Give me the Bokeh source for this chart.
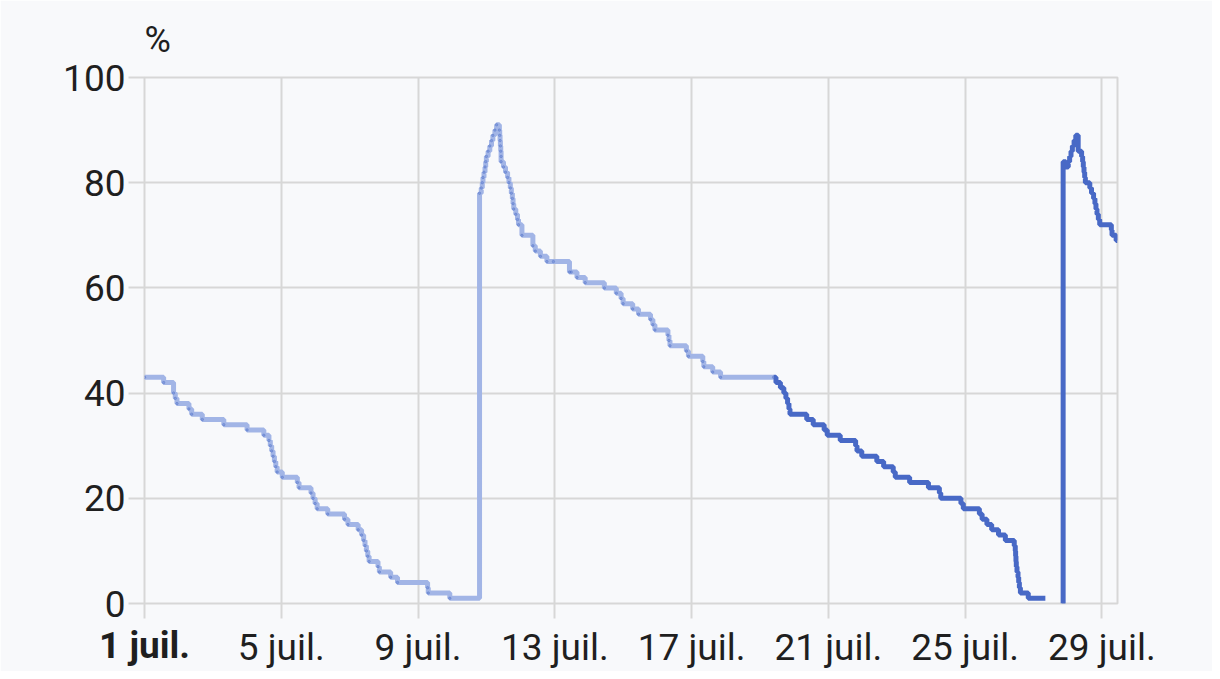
from bokeh.plotting import figure
from bokeh.models import Range1d, FixedTicker, LinearAxis
from bokeh.embed import file_html
from bokeh.resources import INLINE

# ---- data: battery level (%) ; time in days since 1 July 00:00 ----
light_t = [0.00, 0.56, 0.85, 0.90, 0.95, 1.30, 1.38, 1.69, 2.32, 3.00, 3.49,
           3.64, 3.68, 3.72, 3.76, 3.80, 3.84, 3.88, 4.03, 4.47, 4.52,
           4.87, 4.93, 4.99, 5.05, 5.36, 5.85, 5.95, 6.25, 6.35, 6.41,
           6.45, 6.49, 6.53, 6.57, 6.83, 6.87, 7.20, 7.40, 8.28, 8.30, 8.93,
           9.80, 9.85, 9.88, 9.90, 9.93, 9.96, 9.98, 10.00, 10.05, 10.10, 10.15,
           10.19, 10.25, 10.30, 10.38, 10.39, 10.40, 10.41, 10.42, 10.43, 10.43,
           10.50, 10.56, 10.62, 10.66, 10.70, 10.73, 10.76, 10.78, 10.80, 10.86,
           10.91, 10.94, 11.04, 11.36, 11.43, 11.58, 11.77, 11.96,
           12.43, 12.48, 12.65, 12.89, 13.45, 13.80, 13.94, 14.00, 14.28, 14.45,
           14.80, 14.87, 14.93, 15.31, 15.34, 15.37, 15.85, 15.91,
           16.33, 16.36, 16.62, 16.85, 18.40]
light_v = [43, 42, 40, 39, 38, 37, 36, 35, 34, 33, 32,
           31, 30, 29, 28, 27, 26, 25, 24, 23, 22,
           21, 20, 19, 18, 17, 16, 15, 14, 13, 12,
           11, 10, 9, 8, 7, 6, 5, 4, 3, 2, 1,
           78, 79, 80, 81, 82, 83, 84, 85, 86, 87, 88,
           89, 90, 91, 90, 89, 88, 87, 86, 85, 84,
           83, 82, 81, 80, 79, 78, 77, 76, 75, 74,
           73, 72, 70, 68, 67, 66, 65, 65,
           63, 63, 62, 61, 60, 59, 58, 57, 56, 55,
           54, 53, 52, 51, 50, 49, 48, 47,
           46, 45, 44, 43, 43]

dark_t = [18.40, 18.47, 18.60, 18.70, 18.76, 18.81, 18.85, 18.88,
          19.37, 19.56, 19.88, 19.97, 20.35, 20.80, 20.84, 20.98,
          21.42, 21.62, 21.90, 21.96, 22.38, 22.93, 23.25, 23.29,
          23.88, 23.95, 24.42, 24.50, 24.64, 24.78, 24.98, 25.18,
          25.44, 25.47, 25.48, 25.49, 25.50, 25.52, 25.55, 25.57, 25.59, 25.62,
          25.85, 26.35]
dark_v = [43, 42, 41, 40, 39, 38, 37, 36,
          35, 34, 33, 32, 31, 30, 29, 28,
          27, 26, 25, 24, 23, 22, 21, 20,
          19, 18, 17, 16, 15, 14, 13, 12,
          11, 10, 9, 8, 7, 6, 5, 4, 3, 2,
          1, 1]

last_t = [26.83, 26.87, 26.95, 27.02, 27.06, 27.10, 27.14, 27.19, 27.24,
          27.31, 27.41, 27.44, 27.46, 27.48, 27.50, 27.52, 27.65, 27.70,
          27.76, 27.80, 27.83, 27.86, 27.90, 27.94, 28.28, 28.30, 28.42, 28.46]
last_v = [0, 84, 83, 84, 85, 86, 87, 88, 89,
          86, 85, 84, 83, 82, 81, 80, 79, 78,
          77, 76, 75, 74, 73, 72, 71, 70, 69, 69]

tick_days = [0, 4, 8, 12, 16, 20, 24, 28]
tick_labels = ["1 juil.", "5 juil.", "9 juil.", "13 juil.", "17 juil.",
               "21 juil.", "25 juil.", "29 juil."]
y_ticks = [0, 20, 40, 60, 80, 100]

BG = "#f8f9fb"
GRID = "#d7d7d7"
LIGHT = "#a2b5e6"
DARK = "#4869c6"
TXT = "#1f1f1f"
FONT = "Roboto"
FS = "37px"

p = figure(width=1212, height=671, output_backend="svg", toolbar_location=None,
           x_range=Range1d(0, 28.46), y_range=Range1d(0, 100),
           x_axis_location=None,
           min_border_left=144, min_border_right=95, min_border_top=77,
           min_border_bottom=68, background_fill_color=BG, border_fill_color=BG)
p.outline_line_color = GRID
p.outline_line_width = 2

# unit label as a left-aligned title
p.title.text = "%"
p.title.align = "left"
p.title.text_font = FONT
p.title.text_font_size = "36px"
p.title.text_font_style = "normal"
p.title.text_color = TXT
p.title.standoff = 33
p.title.offset = 0

p.step(light_t, light_v, mode="after", line_color=LIGHT, line_width=5)
p.scatter(light_t, light_v, size=2.5, color=DARK, alpha=0.35)
p.step(dark_t, dark_v, mode="after", line_color=DARK, line_width=5)
p.step(last_t, last_v, mode="after", line_color=DARK, line_width=5)


def style_axis(ax):
    ax.axis_line_color = None
    ax.minor_tick_line_color = None
    ax.major_tick_line_color = GRID
    ax.major_tick_line_width = 2
    ax.major_tick_in = 0
    ax.major_label_text_font = FONT
    ax.major_label_text_font_size = FS
    ax.major_label_text_color = TXT


# x axis 1 (next to the plot): tick marks + bold first date
xa_first = LinearAxis(ticker=FixedTicker(ticks=tick_days),
                      major_label_overrides={d: (lab if d == tick_days[0] else "")
                                             for d, lab in zip(tick_days, tick_labels)})
style_axis(xa_first)
xa_first.major_tick_out = 15
xa_first.major_label_standoff = 5
xa_first.major_label_text_font_style = "bold"

# x axis 2: the other dates, pulled back up next to the bold one
xa_rest = LinearAxis(ticker=FixedTicker(ticks=tick_days),
                     major_label_overrides={d: ("" if d == tick_days[0] else lab)
                                            for d, lab in zip(tick_days, tick_labels)})
style_axis(xa_rest)
xa_rest.major_tick_line_color = None
xa_rest.major_tick_out = 0
xa_rest.major_label_standoff = -44

p.add_layout(xa_first, "below")
p.add_layout(xa_rest, "below")

p.yaxis.ticker = FixedTicker(ticks=y_ticks)
style_axis(p.yaxis[0])
p.yaxis.major_tick_out = 16
p.yaxis.major_label_standoff = 3

p.xgrid.ticker = FixedTicker(ticks=tick_days)
p.ygrid.ticker = FixedTicker(ticks=y_ticks)
p.grid.grid_line_color = GRID
p.grid.grid_line_width = 2

open("out.html", "w").write(file_html(p, INLINE))
